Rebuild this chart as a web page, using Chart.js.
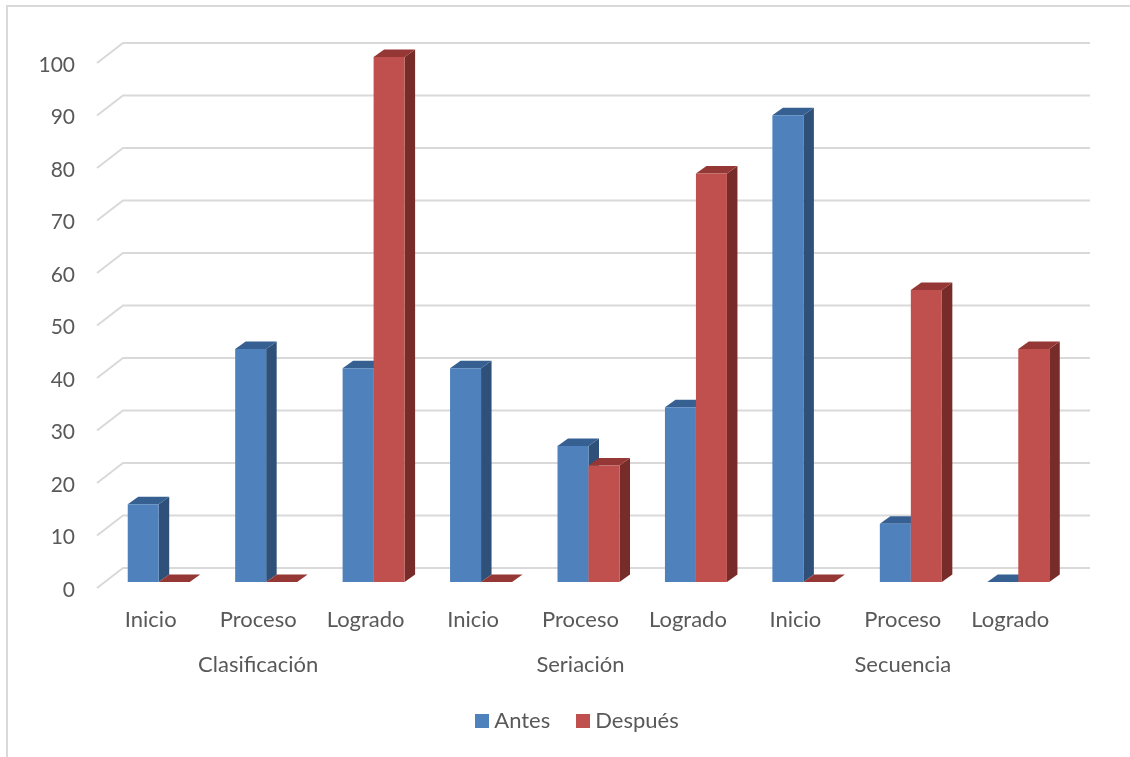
<!DOCTYPE html>
<html>
<head>
<meta charset="utf-8">
<style>
  html, body { margin: 0; padding: 0; background: #fff; overflow: hidden; }
  canvas { display: block; }
</style>
<script src="https://cdn.jsdelivr.net/npm/chart.js@4/dist/chart.umd.min.js"></script>
</head>
<body>
<canvas id="bar-chart" width="1130" height="757"></canvas>
<script>
var niveles = ["Inicio", "Proceso", "Logrado", "Inicio", "Proceso", "Logrado", "Inicio", "Proceso", "Logrado"];
var grupos = ["Clasificación", "Seriación", "Secuencia"];
var antes = [14.8, 44.4, 40.7, 40.7, 25.9, 33.3, 88.9, 11.1, 0];
var despues = [0, 0, 100, 0, 22.2, 77.8, 0, 55.6, 44.4];
var yTicks = [0, 10, 20, 30, 40, 50, 60, 70, 80, 90, 100];

var textColor = '#595959';
var gridColor = '#d9d9d9';
var fontFamily = 'Lato, "Open Sans", sans-serif';
var fontSize = 22;

// depth of the bars
var barDx = 10.5, barDy = 7.5;

// side and top faces for each series
var faces = [
    { side: '#2f5078', top: '#376092' },
    { side: '#772c2a', top: '#953735' }
];

function poly(ctx, color, pts) {
    ctx.fillStyle = color;
    ctx.beginPath();
    ctx.moveTo(pts[0][0], pts[0][1]);
    for (var i = 1; i < pts.length; i++) {
        ctx.lineTo(pts[i][0], pts[i][1]);
    }
    ctx.closePath();
    ctx.fill();
}

// small square used as legend marker, keeps the text close to it
function legendSquare(color) {
    var c = document.createElement('canvas');
    c.width = 14;
    c.height = 14;
    var g = c.getContext('2d');
    g.fillStyle = color;
    g.fillRect(0, 0, 14, 14);
    return c;
}

// outer frame, only top and left are visible
var framePlugin = {
    id: 'frame',
    beforeDraw: function (chart) {
        var ctx = chart.ctx;
        ctx.save();
        ctx.strokeStyle = gridColor;
        ctx.lineWidth = 2;
        ctx.beginPath();
        ctx.moveTo(7, 757);
        ctx.lineTo(7, 6);
        ctx.lineTo(1130, 6);
        ctx.stroke();
        ctx.restore();
    }
};

// slanted gridlines on the back wall and floor edge
var wallPlugin = {
    id: 'wall',
    beforeDatasetsDraw: function (chart) {
        var ctx = chart.ctx;
        var yScale = chart.scales.y;
        var left = chart.chartArea.left;
        ctx.save();
        ctx.strokeStyle = gridColor;
        ctx.lineWidth = 2;
        yScale.ticks.forEach(function (t) {
            var y = yScale.getPixelForValue(t.value);
            ctx.beginPath();
            ctx.moveTo(left - 8, y + 6);
            ctx.lineTo(left + 18, y - 14);
            ctx.lineTo(1090, y - 14);
            ctx.stroke();
        });
        ctx.restore();
    }
};

// draws series in order so the red bars overlap the blue side faces
var barsPlugin = {
    id: 'bars3d',
    beforeDatasetsDraw: function (chart) {
        var ctx = chart.ctx;
        chart.data.datasets.forEach(function (ds, i) {
            var meta = chart.getDatasetMeta(i);
            ctx.save();
            meta.data.forEach(function (bar) {
                var p = bar.getProps(['x', 'y', 'base', 'width'], true);
                var x0 = p.x - p.width / 2, x1 = p.x + p.width / 2;
                poly(ctx, faces[i].side, [[x1, p.y], [x1 + barDx, p.y - barDy], [x1 + barDx, p.base - barDy], [x1, p.base]]);
                poly(ctx, faces[i].top, [[x0, p.y], [x1, p.y], [x1 + barDx, p.y - barDy], [x0 + barDx, p.y - barDy]]);
            });
            ctx.restore();
            meta.controller.draw();
        });
        return false;
    }
};

// legend sits right of the canvas centre
var legendShift = {
    id: 'legendShift',
    afterLayout: function (chart) {
        chart.legend.left += 44;
        chart.legend.right += 44;
    }
};

var barChart = new Chart(document.getElementById("bar-chart"), {
    type: 'bar',
    data: {
        labels: niveles,
        datasets: [{
            label: "Antes",
            backgroundColor: '#4f81bd',
            pointStyle: legendSquare('#4f81bd'),
            data: antes
        }, {
            label: "Después",
            backgroundColor: '#c0504d',
            pointStyle: legendSquare('#c0504d'),
            data: despues
        }]
    },
    options: {
        responsive: false,
        animation: false,
        layout: { padding: { top: 57, right: 58, bottom: 15, left: 0 } },
        datasets: { bar: { barPercentage: 1, categoryPercentage: 0.577 } },
        scales: {
            y: {
                min: 0,
                max: 100,
                afterFit: function (scale) { scale.width = 105; },
                afterBuildTicks: function (scale) {
                    scale.ticks = yTicks.map(function (v) { return { value: v }; });
                },
                grid: { display: false, drawTicks: false },
                border: { display: false },
                ticks: { color: textColor, padding: 30, labelOffset: 8, font: { family: fontFamily, size: 21 } }
            },
            x: {
                afterFit: function (scale) { scale.height = 50; },
                grid: { display: false, drawTicks: false },
                border: { display: false },
                ticks: { color: textColor, padding: 25, labelOffset: -8, maxRotation: 0, autoSkip: false, font: { family: fontFamily, size: fontSize } }
            },
            x2: {
                type: 'category',
                axis: 'x',
                position: 'bottom',
                labels: grupos,
                afterFit: function (scale) { scale.height = 46; },
                grid: { display: false, drawTicks: false },
                border: { display: false },
                ticks: { color: textColor, padding: 20, labelOffset: -8, maxRotation: 0, autoSkip: false, font: { family: fontFamily, size: fontSize } }
            }
        },
        plugins: {
            legend: {
                display: true,
                position: 'bottom',
                labels: {
                    usePointStyle: true,
                    pointStyleWidth: 2,
                    boxHeight: 14,
                    padding: 32,
                    color: textColor,
                    font: { family: fontFamily, size: fontSize }
                }
            },
            tooltip: { enabled: false }
        }
    },
    plugins: [framePlugin, wallPlugin, barsPlugin, legendShift]
});
</script>
</body>
</html>
